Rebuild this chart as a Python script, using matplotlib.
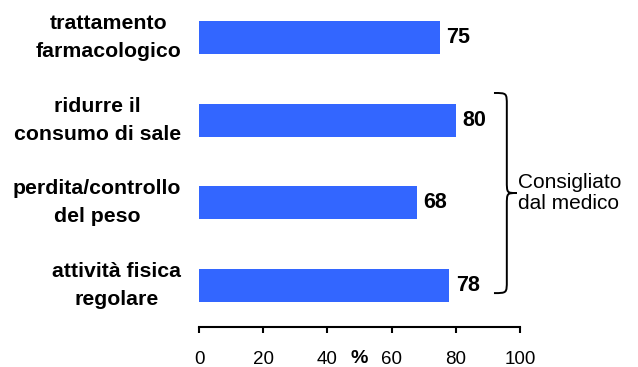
import matplotlib
matplotlib.use("Agg")
import matplotlib.pyplot as plt
from matplotlib.path import Path
from matplotlib.patches import PathPatch

categories = ["trattamento\nfarmacologico", "ridurre il\nconsumo di sale",
              "perdita/controllo\ndel peso", "attività fisica\nregolare"]
values = [75, 80, 68, 78]
xticks = [0, 20, 40, 60, 80, 100]
brace_label = "Consigliato\ndal medico"

plt.rcParams["font.family"] = ["Liberation Sans", "DejaVu Sans"]

fig = plt.figure(figsize=(6.38, 3.67), dpi=100)
ax = fig.add_axes([0.312, 0.109, 0.503, 0.890])

ypos = list(range(len(categories) - 1, -1, -1))
ax.barh(ypos, values, height=0.4, color="#3366FF")

for y, v in zip(ypos, values):
    ax.text(v + 2, y, f"{v}", ha="left", va="center", fontsize=15.5,
            fontweight="bold", color="black")

ax.set_xlim(0, 100)
ax.set_ylim(-0.5, 3.45)
ax.set_xticks(xticks)
ax.set_xticklabels([str(t) for t in xticks], fontsize=13.5)
ax.set_yticks(ypos)
ax.set_yticklabels(categories, fontsize=15.3, fontweight="bold",
                   multialignment="center", linespacing=1.6, va="center")
ax.tick_params(axis="y", length=0, pad=13)
ax.tick_params(axis="x", length=4.5, width=1.5, direction="out", pad=13)

for s in ["top", "right", "left"]:
    ax.spines[s].set_visible(False)
ax.spines["bottom"].set_linewidth(1.5)

# "%" unit label sitting between the 40 and 60 ticks
ax.annotate("%", xy=(50, 0), xycoords=("data", "axes fraction"),
            xytext=(0, -16.5), textcoords="offset points", ha="center",
            va="top", fontsize=14, fontweight="bold")

# curly brace grouping the doctor-recommended actions
x0, x1, x2 = 91.9, 95.9, 99.0
ytop, ybot = 2.33, -0.09
ymid = (ytop + ybot) / 2
r = 0.15
verts = [
    (x0, ytop),
    (x1, ytop), (x1, ytop), (x1, ytop - r),
    (x1, ymid + r),
    (x1, ymid), (x1, ymid), (x2, ymid),
    (x1, ymid), (x1, ymid), (x1, ymid - r),
    (x1, ybot + r),
    (x1, ybot), (x1, ybot), (x0, ybot),
]
codes = [Path.MOVETO,
         Path.CURVE4, Path.CURVE4, Path.CURVE4,
         Path.LINETO,
         Path.CURVE4, Path.CURVE4, Path.CURVE4,
         Path.CURVE4, Path.CURVE4, Path.CURVE4,
         Path.LINETO,
         Path.CURVE4, Path.CURVE4, Path.CURVE4]
ax.add_patch(PathPatch(Path(verts, codes), facecolor="none",
                       edgecolor="black", lw=1.4, clip_on=False))
ax.text(x2 + 0.4, ymid, brace_label, ha="left", va="center", fontsize=15,
        linespacing=1.15, clip_on=False)

fig.savefig("out.png", dpi=100)
